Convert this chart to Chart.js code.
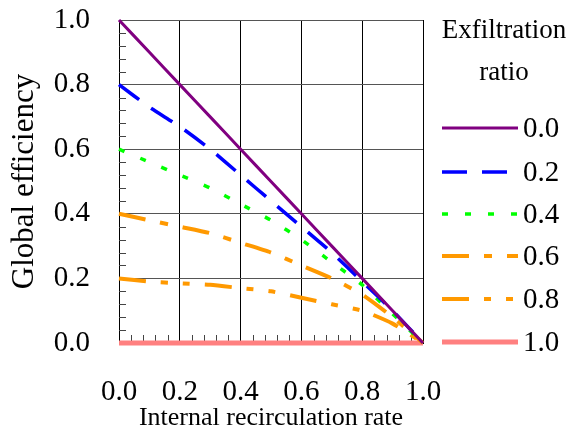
<!DOCTYPE html>
<html lang="en">
<head>
    <meta charset="UTF-8">
    <title>Global efficiency vs internal recirculation rate</title>
    <script src="https://cdn.jsdelivr.net/npm/chart.js"></script>
    <style>
        html, body { margin: 0; padding: 0; background: #fff; }
        #wrap { width: 569px; height: 432px; }
    </style>
</head>
<body>
    <div id="wrap"><canvas id="effChart"></canvas></div>

    <script>
        // data
        const recircRate = [0.0, 0.1, 0.2, 0.3, 0.4, 0.5, 0.6, 0.7, 0.8, 0.9, 1.0];
        const ratioLabels = ['0.0', '0.2', '0.4', '0.6', '0.8', '1.0'];
        const eff00 = [1.00, 0.90, 0.80, 0.70, 0.60, 0.50, 0.40, 0.30, 0.20, 0.10, 0.00];
        const eff02 = [0.80, 0.73, 0.67, 0.60, 0.52, 0.44, 0.36, 0.28, 0.19, 0.10, 0.00];
        const eff04 = [0.60, 0.56, 0.52, 0.48, 0.43, 0.38, 0.32, 0.25, 0.18, 0.09, 0.00];
        const eff06 = [0.40, 0.38, 0.36, 0.34, 0.31, 0.28, 0.24, 0.20, 0.15, 0.08, 0.00];
        const eff08 = [0.20, 0.19, 0.185, 0.18, 0.17, 0.16, 0.14, 0.12, 0.10, 0.06, 0.00];
        const eff10 = [0.00, 0.00, 0.00, 0.00, 0.00, 0.00, 0.00, 0.00, 0.00, 0.00, 0.00];
        const tickValues = [0.0, 0.2, 0.4, 0.6, 0.8, 1.0];

        const serif = '"Liberation Serif", "DejaVu Serif", serif';

        function pts(ys) {
            return recircRate.map((x, i) => ({ x: x, y: ys[i] }));
        }

        const styles = [
            { color: '#800080', width: 3, dash: [] },
            { color: '#0000ff', width: 3.5, dash: [25, 15] },
            { color: '#00ff00', width: 3.5, dash: [6, 17] },
            { color: '#ff9900', width: 4, dash: [27, 15, 8, 15] },
            { color: '#ff9900', width: 4, dash: [27, 15, 7, 15, 7, 15] },
            { color: '#ff8080', width: 5, dash: [] }
        ];
        const series = [eff00, eff02, eff04, eff06, eff08, eff10];

        const datasets = series.map((s, i) => ({
            label: ratioLabels[i],
            data: pts(s),
            borderColor: styles[i].color,
            backgroundColor: styles[i].color,
            borderWidth: styles[i].width,
            borderDash: styles[i].dash,
            pointRadius: 0,
            tension: 0.2,
            fill: false,
            clip: 6
        }));

        // minor ticks inside the frame + hand-placed legend on the right
        const extrasPlugin = {
            id: 'extras',
            beforeDatasetsDraw(chart) {
                const ctx = chart.ctx;
                const xs = chart.scales.x, ys = chart.scales.y;
                const a = chart.chartArea;
                ctx.save();
                ctx.strokeStyle = '#444';
                ctx.lineWidth = 1;
                ctx.beginPath();
                for (let k = 1; k < 25; k++) {
                    if (k % 5 === 0) continue;
                    const v = k * 0.04;
                    const py = Math.round(ys.getPixelForValue(v)) + 0.5;
                    ctx.moveTo(a.left, py);
                    ctx.lineTo(a.left + 7, py);
                    const px = Math.round(xs.getPixelForValue(v)) + 0.5;
                    ctx.moveTo(px, a.bottom);
                    ctx.lineTo(px, a.bottom - 8);
                }
                ctx.stroke();
                ctx.restore();
            },
            afterDraw(chart) {
                const ctx = chart.ctx;
                ctx.save();
                ctx.fillStyle = '#000';
                ctx.font = '27px ' + serif;
                ctx.textAlign = 'center';
                ctx.textBaseline = 'middle';
                ctx.fillText('Exfiltration', 504, 31);
                ctx.fillText('ratio', 504, 73);
                const rowY = [128, 172, 214, 256, 299, 342];
                chart.data.datasets.forEach((ds, i) => {
                    const y = rowY[i];
                    ctx.beginPath();
                    ctx.setLineDash(ds.borderDash);
                    ctx.strokeStyle = ds.borderColor;
                    ctx.lineWidth = ds.borderWidth;
                    ctx.moveTo(442, y);
                    ctx.lineTo(518, y);
                    ctx.stroke();
                    ctx.setLineDash([]);
                    ctx.textAlign = 'left';
                    ctx.font = '29px ' + serif;
                    ctx.fillText(ds.label, 523, y + 1);
                });
                ctx.restore();
            }
        };

        new Chart(document.getElementById('effChart'), {
            type: 'line',
            data: { datasets: datasets },
            plugins: [extrasPlugin],
            options: {
                responsive: true,
                maintainAspectRatio: false,
                animation: false,
                layout: { padding: { left: 6, right: 146, top: 0, bottom: 0 } },
                plugins: {
                    legend: { display: false },
                    tooltip: { enabled: false }
                },
                scales: {
                    x: {
                        type: 'linear',
                        min: 0,
                        max: 1,
                        afterBuildTicks: (s) => { s.ticks = tickValues.map(v => ({ value: v })); },
                        afterFit: (s) => { s.height = 89; },
                        ticks: {
                            color: '#000',
                            font: { family: serif, size: 29 },
                            padding: 32,
                            maxRotation: 0,
                            callback: (v) => Number(v).toFixed(1)
                        },
                        grid: { color: '#000', lineWidth: 1, drawTicks: false },
                        border: { color: '#000', width: 1 },
                        title: {
                            display: true,
                            text: 'Internal recirculation rate',
                            color: '#000',
                            font: { family: serif, size: 26 },
                            padding: { top: 0, bottom: -2 }
                        }
                    },
                    y: {
                        type: 'linear',
                        min: 0,
                        max: 1,
                        afterBuildTicks: (s) => { s.ticks = tickValues.map(v => ({ value: v })); },
                        afterFit: (s) => { s.width = 113; s.paddingTop = 20; s.paddingBottom = 0; },
                        ticks: {
                            color: '#000',
                            font: { family: serif, size: 29 },
                            padding: 29,
                            callback: (v) => Number(v).toFixed(1)
                        },
                        grid: { color: '#555', lineWidth: 1, drawTicks: false },
                        border: { color: '#000', width: 1 },
                        title: {
                            display: true,
                            text: 'Global efficiency',
                            color: '#000',
                            font: { family: serif, size: 31 },
                            padding: { top: 0, bottom: 0 }
                        }
                    }
                }
            }
        });
    </script>
</body>
</html>
